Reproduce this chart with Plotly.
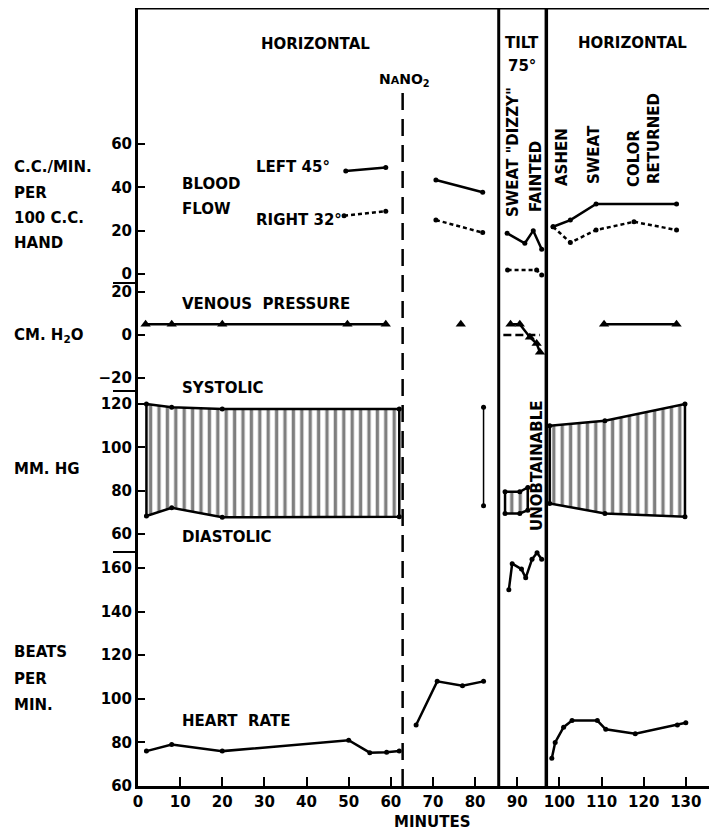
import plotly.graph_objects as go

# ---------------- data (minutes) ----------------
# Heart rate (beats/min); None separates drawn segments
hr_t = [2, 8, 20, 50, 55, 59, 62, None, 66, 71, 77, 82, None,
        88, 88.8, 91, 92, 93.5, 94.7, 95.8, None,
        98.2, 99, 101, 103, 109, 111, 118, 128, 130]
hr_v = [76, 79, 76, 81, 75.3, 75.5, 76, None, 88, 108, 106, 108, None,
        150, 162, 159.5, 155.5, 164, 167, 164, None,
        72.7, 80, 87, 90, 90, 86, 84, 88, 89]

# Blood pressure (mm Hg) - hatched segments
bp_pre_t = [2, 8, 20, 62]
bp_pre_sys = [120, 118.5, 117.7, 117.7]
bp_pre_dia = [68.3, 72.1, 67.7, 68]
bp_mid_t = [82, 82]
bp_mid_v = [118.5, 73]
bp_tilt_t = [87.1, 90.6, 92.5]
bp_tilt_sys = [79.5, 79.5, 81.5]
bp_tilt_dia = [69.5, 69.5, 71]
bp_post_t = [97.7, 110.8, 129.8]
bp_post_sys = [110, 112.3, 120]
bp_post_dia = [74.1, 69.5, 68]

# Venous pressure (cm H2O)
vp_t = [1.8, 8, 20, 49.7, 58.8, None, 88.4, 90.6, 93, 94.6, 95.4, None, 110.6, 127.8]
vp_v = [5, 5, 5, 5, 5, None, 5, 5, -1, -4, -8, None, 5, 5]
vp_single_t = [76.6]
vp_single_v = [5]
vp_base_t = [86.7, 95.4]
vp_base_v = [0, 0]

# Blood flow (c.c./min per 100 c.c. hand)
bf_left_t = [49.3, 58.8, None, 70.7, 81.8, None, 87.6, 91.8, 93.8, 95.8, None,
             98.5, 102.6, 108.7, 127.8]
bf_left_v = [47.5, 49.2, None, 43.4, 37.7, None, 18.8, 14.2, 20, 11.4, None,
             21.8, 24.9, 32.3, 32.3]
bf_right_t = [48.9, 58.8, None, 70.7, 81.8, None, 87.7, 94.6, 95.8, None,
              98.5, 102.6, 108.7, 117.7, 127.8]
bf_right_v = [26.9, 29, None, 24.9, 19.1, None, 1.8, 1.8, -0.5, None,
              21.8, 14.5, 20.3, 24.1, 20.3]

# event times
NANO2_T = 62.8
TILT_START = 85.6
TILT_END = 96.9

x_ticks = list(range(0, 140, 10))
hr_ticks = [60, 80, 100, 120, 140, 160]
bp_ticks = [60, 80, 100, 120]
vp_ticks = [-20, 0, 20]
bf_ticks = [0, 20, 40, 60]

# ---------------- figure ----------------
# page has an 8px body margin; figure sized to fill the rest of the window
OFF = 8
W, H = 709, 823
L, R, T, B = 130, 0, 0, 45
PW, PH = W - L - R, H - T - B
FONT = "DejaVu Sans"


def px(x):  # page pixel -> paper
    return (x - OFF - L) / PW


def py(y):
    return (H - B - (y - OFF)) / PH


fig = go.Figure()
LW = 2.5
MK = dict(size=5, color="black")


def line_trace(x, y, yaxis, dash="solid", mode="lines+markers", marker=None, width=LW):
    fig.add_trace(go.Scatter(x=x, y=y, yaxis=yaxis, mode=mode,
                             line=dict(color="black", width=width, dash=dash),
                             marker=marker or MK, connectgaps=False,
                             cliponaxis=False, showlegend=False, hoverinfo="skip"))


def hatch(t, sys, dia, yaxis):
    xs = list(t) + list(reversed(t))
    ys = list(sys) + list(reversed(dia))
    fig.add_trace(go.Scatter(x=xs + [xs[0]], y=ys + [ys[0]], yaxis=yaxis, mode="lines",
                             fill="toself",
                             fillpattern=dict(shape="|", size=8.4, solidity=0.4,
                                              fgcolor="black", bgcolor="white"),
                             fillcolor="white",
                             line=dict(color="black", width=LW),
                             cliponaxis=False, showlegend=False, hoverinfo="skip"))
    line_trace(t, sys, yaxis, mode="markers")
    line_trace(t, dia, yaxis, mode="markers")


# heart rate
line_trace(hr_t, hr_v, "y")
# blood pressure
hatch(bp_pre_t, bp_pre_sys, bp_pre_dia, "y2")
hatch(bp_tilt_t, bp_tilt_sys, bp_tilt_dia, "y2")
hatch(bp_post_t, bp_post_sys, bp_post_dia, "y2")
line_trace(bp_mid_t, bp_mid_v, "y2", width=1.5)
# venous pressure
TRI = dict(size=9, color="black", symbol="triangle-up")
line_trace(vp_t, vp_v, "y3", marker=TRI)
line_trace(vp_single_t, vp_single_v, "y3", mode="markers", marker=TRI)
line_trace(vp_base_t, vp_base_v, "y3", mode="lines", dash="8px,4px")
# blood flow
line_trace(bf_left_t, bf_left_v, "y4")
line_trace(bf_right_t, bf_right_v, "y4", dash="4px,3px")

tickfont = dict(family=FONT, size=15, color="black", weight="bold")
yax_common = dict(showline=True, linewidth=3, linecolor="black", ticks="inside",
                  ticklen=7, tickwidth=2, tickcolor="black", showgrid=False,
                  zeroline=False, tickfont=tickfont, anchor="x")

fig.update_layout(
    width=W, height=H,
    margin=dict(l=L, r=R, t=T, b=B, autoexpand=False),
    paper_bgcolor="white", plot_bgcolor="white",
    font=dict(family=FONT, size=15, color="black", weight="bold"),
    xaxis=dict(range=[0, 137.4], tickvals=x_ticks, showline=True, linewidth=3,
               linecolor="black", ticks="inside", ticklen=9, tickwidth=2,
               tickcolor="black", showgrid=False, zeroline=False,
               tickfont=tickfont, anchor="y"),
    yaxis=dict(domain=[0, 234 / 778], range=[60, 167.34], tickvals=hr_ticks, **yax_common),
    yaxis2=dict(domain=[234 / 778, 395 / 778], range=[51.69, 126.0], tickvals=bp_ticks, **yax_common),
    yaxis3=dict(domain=[395 / 778, 503 / 778], range=[-26.05, 24.19], tickvals=vp_ticks, **yax_common),
    yaxis4=dict(domain=[503 / 778, 1], range=[-4.15, 122.77], tickvals=bf_ticks, **yax_common),
)

shapes = []
# top border
shapes.append(dict(type="line", xref="paper", yref="paper", x0=0, x1=1, y0=py(8), y1=py(8),
                   line=dict(color="black", width=3)))
# section dividers at left
for d in [234 / 778, 395 / 778, 503 / 778]:
    shapes.append(dict(type="line", xref="paper", yref="paper", x0=px(113), x1=0, y0=d, y1=d,
                       line=dict(color="black", width=2)))
# tilt period boundaries
for xv, w in [(TILT_START, 3), (TILT_END, 3.5)]:
    shapes.append(dict(type="line", xref="x", yref="paper", x0=xv, x1=xv, y0=0, y1=1,
                       line=dict(color="black", width=w)))
# NaNO2 injection
shapes.append(dict(type="line", xref="x", yref="paper", x0=NANO2_T, x1=NANO2_T,
                   y0=0, y1=py(88), line=dict(color="black", width=2.5, dash="17px,9px")))
fig.update_layout(shapes=shapes)

ann = []


def text(s, x, y, anchor="center", angle=0, size=15):
    ann.append(dict(text=s, x=px(x), y=py(y), xref="paper", yref="paper",
                    xanchor=anchor, yanchor="middle", showarrow=False, textangle=angle,
                    font=dict(family=FONT, size=size, color="black", weight="bold")))


text("HORIZONTAL", 315, 44)
text("TILT", 522, 43)
text("75°", 522, 66)
text("HORIZONTAL", 632, 43)
text("N<span style='font-size:11px'>A</span>NO<sub>2</sub>", 404, 80, size=14)
text("SWEAT \"DIZZY\"", 513, 152, angle=-90)
text("FAINTED", 536, 177, angle=-90)
text("ASHEN", 562, 157, angle=-90)
text("SWEAT", 594, 155, angle=-90)
text("COLOR", 634, 158, angle=-90)
text("RETURNED", 654, 139, angle=-90)
text("UNOBTAINABLE", 537, 466, angle=-90)

for s, y in [("C.C./MIN.", 167), ("PER", 193), ("100 C.C.", 218), ("HAND", 243),
             ("CM. H<sub>2</sub>O", 335), ("MM. HG", 469),
             ("BEATS", 652), ("PER", 679), ("MIN.", 705)]:
    text(s, 12, y, anchor="left")

for s, y in [("BLOOD", 184), ("FLOW", 209), ("VENOUS  PRESSURE", 304), ("SYSTOLIC", 388),
             ("DIASTOLIC", 537), ("HEART  RATE", 721)]:
    text(s, 180, y, anchor="left")

text("LEFT 45°", 254, 167, anchor="left")
text("RIGHT 32°", 254, 220, anchor="left")
text("MINUTES", 432, 822)

fig.update_layout(annotations=ann)
fig.write_html("out.html")
